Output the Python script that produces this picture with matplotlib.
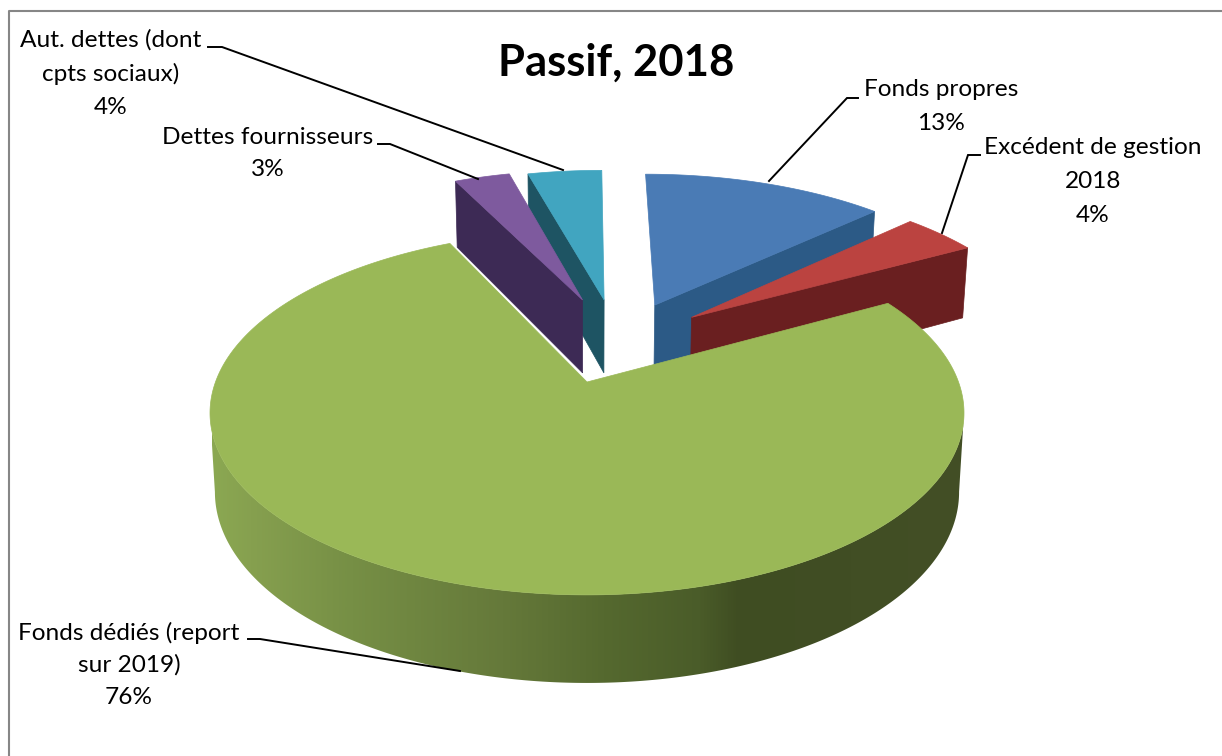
import numpy as np
import matplotlib
matplotlib.use('Agg')
import matplotlib.pyplot as plt
from matplotlib.colors import LinearSegmentedColormap
from matplotlib.patches import Polygon

plt.rcParams['font.family'] = ['Lato', 'DejaVu Sans']

## Chart data (percent, clockwise from the top)
categories = ['Fonds propres', 'Excédent de gestion 2018', 'Fonds dédiés (report sur 2019)',
              'Dettes fournisseurs', 'Aut. dettes (dont cpts sociaux)']
values = [13, 4, 76, 3, 4]
title = 'Passif, 2018'

# label lines as they wrap in the chart
label_lines = [['Fonds propres'], ['Excédent de gestion', '2018'],
               ['Fonds dédiés (report', 'sur 2019)'], ['Dettes fournisseurs'],
               ['Aut. dettes (dont', 'cpts sociaux)']]

## Styles
top_colors = ['#4a7bb5', '#bb4340', '#9ab857', '#7e5a9e', '#41a5c0']
wall_colors = ['#2c5a86', '#6a1f20', '#5f7a35', '#3d2a55', '#1e5463']
# explosion offset of every slice on the disk
offsets = [(0.197, 0.47), (0.30, 0.39), (0.0, 0.0), (-0.013, 0.504), (0.05, 0.504)]
# which radial wall of a slice faces the viewer (0 first edge, -1 last edge)
facing_wall = [-1, -1, None, 0, 0]
label_xy = [(941, 90), (1093, 148), (129, 633), (268, 137), (111, 40)]
line_gap = [33, 34, 32, 33, 33.5]
leaders = [[(858, 98), (847, 98), (769, 181)],
           [(980, 155), (968, 155), (942, 233)],
           [(248, 639), (260, 639), (460, 671)],
           [(378, 144), (390, 144), (478, 179)],
           [(208, 47), (222, 47), (563, 170)]]
# green outer wall shading along x
shade_x = [212, 250, 351, 503, 604, 700, 740, 966]
shade_c = ['#8ba852', '#86a04f', '#768f45', '#65793a', '#55692f', '#4a5c29', '#3f4d22', '#434f26']

# projection of the disk onto the picture
AX, AY = 587, 382
A, B, K = 371.5, 176.7, 0.17
D, K2 = 77.4, 0.121


def project(u, v, low=False):
    w = 1 + K * v
    x = A * u / w
    y = -B * v / w
    if low:
        x = x * 0.987
        y = y + D / (1 + K2 * v)
    return AX + x, AY + y


def slice_points(t0, t1, off):
    t = np.radians(np.arange(t0, t1, 0.25))
    t = np.append(t, np.radians(t1))
    return np.sin(t) + off[0], np.cos(t) + off[1]


def draw_slice(ax, t0, t1, off, top, wall, face):
    u, v = slice_points(t0, t1, off)
    tx, ty = project(u, v)
    bx, by = project(u, v, low=True)
    cx, cy = project(off[0], off[1])
    cbx, cby = project(off[0], off[1], low=True)
    if face is not None:
        ax.add_patch(Polygon([(cx, cy), (tx[face], ty[face]), (bx[face], by[face]), (cbx, cby)],
                             fc=wall, ec=wall, lw=0.5, zorder=1))
    z = 1 if face is not None else 2
    ax.add_patch(Polygon(list(zip(np.append(tx, cx), np.append(ty, cy))), fc=top, ec=top, lw=0.5, zorder=z))
    return tx, ty, bx, by


def draw_outer_wall(ax, tx, ty, bx, by):
    # only the part between the two widest points shows
    a, b = np.argmax(tx), np.argmin(tx)
    band = list(zip(np.r_[tx[a:b + 1], bx[a:b + 1][::-1]], np.r_[ty[a:b + 1], by[a:b + 1][::-1]]))
    pos = (np.array(shade_x) - shade_x[0]) / (shade_x[-1] - shade_x[0])
    cmap = LinearSegmentedColormap.from_list('wall', list(zip(pos, shade_c)))
    im = ax.imshow(np.linspace(0, 1, 512).reshape(1, -1), cmap=cmap, aspect='auto',
                   extent=(shade_x[0], shade_x[-1], 756, 0), zorder=1.5)
    im.set_clip_path(Polygon(band, transform=ax.transData))


fig = plt.figure(figsize=(12.22, 7.56), dpi=100)
ax = fig.add_axes([0, 0, 1, 1])

angles = np.cumsum([0] + values) * 360.0 / sum(values)
for i in [4, 3, 0, 1, 2]:
    edges = draw_slice(ax, angles[i], angles[i + 1], offsets[i], top_colors[i], wall_colors[i], facing_wall[i])
    if facing_wall[i] is None:
        draw_outer_wall(ax, *edges)

ax.set_xlim(0, 1222)
ax.set_ylim(756, 0)
ax.axis('off')

# frame, only left and top show in the picture
ax.plot([9, 9, 1222], [756, 11, 11], color='#868686', lw=1.5, zorder=3)

ax.text(616, 63, title, fontsize=31.4, fontweight='bold', ha='center', va='center', color='black', zorder=4)

for i, lines in enumerate(label_lines):
    x, y = label_xy[i]
    rows = lines + ['%d%%' % values[i]]
    for j, row in enumerate(rows):
        ax.text(x, y + j * line_gap[i], row, fontsize=17.6, ha='center', va='center', color='black', zorder=4)
    ax.plot(*zip(*leaders[i]), color='black', lw=1.4, solid_joinstyle='miter', zorder=3)

fig.savefig('out.png', dpi=100)
